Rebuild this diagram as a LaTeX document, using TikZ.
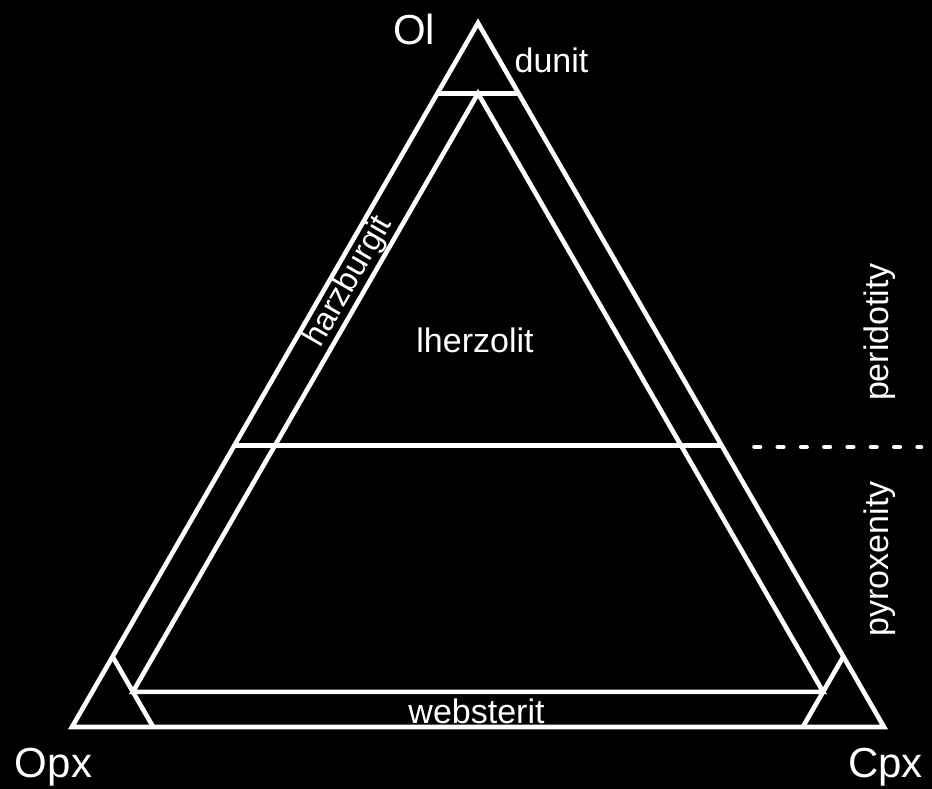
\documentclass[tikz,border=0pt]{standalone}
\usepackage{fontspec}
\setmainfont{Liberation Sans}
\begin{document}
\begin{tikzpicture}[x=1pt,y=-1pt,
  fieldline/.style={draw=white,line width=4.6pt},
  biglabel/.style={text=white,inner sep=0pt,font=\fontsize{42}{50}\selectfont},
  smalllabel/.style={text=white,inner sep=0pt,font=\fontsize{34}{40}\selectfont}]
\fill[black] (0,0) rectangle (932,789);
\useasboundingbox (0,0) rectangle (932,789);
% corners
\coordinate (opx) at (72,727);
\coordinate (cpx) at (884,727);
\coordinate (ol) at (478,23);
% field boundary points
\coordinate (d1) at (barycentric cs:ol=0.9,opx=0.1);
\coordinate (d2) at (barycentric cs:ol=0.9,cpx=0.1);
\coordinate (p1) at (barycentric cs:ol=0.4,opx=0.6);
\coordinate (p2) at (barycentric cs:ol=0.4,cpx=0.6);
\coordinate (top) at (barycentric cs:ol=0.9,opx=0.05,cpx=0.05);
\coordinate (w1) at (barycentric cs:ol=0.05,opx=0.9,cpx=0.05);
\coordinate (w2) at (barycentric cs:ol=0.05,opx=0.05,cpx=0.9);
\coordinate (o1) at (barycentric cs:opx=0.9,ol=0.1);
\coordinate (o2) at (barycentric cs:opx=0.9,cpx=0.1);
\coordinate (c1) at (barycentric cs:cpx=0.9,ol=0.1);
\coordinate (c2) at (barycentric cs:cpx=0.9,opx=0.1);
% outer triangle
\draw[fieldline] (opx) -- (cpx) -- (ol) -- cycle;
% inner boundaries
\draw[fieldline] (d1) -- (d2);
\draw[fieldline] (p1) -- (p2);
\draw[fieldline] (w1) -- (top) -- (w2) -- cycle;
\draw[fieldline] (o1) -- (o2);
\draw[fieldline] (c1) -- (c2);
% dashed separator
\coordinate (s1) at (754.5,447);
\coordinate (s2) at (921,447);
\draw[draw=white,line width=4.6pt,line cap=round,dash pattern=on 5.5pt off 17.8pt] (s1) -- (s2);
% labels
\node[biglabel,anchor=base] (lol) at (414,45) {Ol};
\node[biglabel,anchor=base] (lopx) at (53.5,777) {Opx};
\node[biglabel,anchor=base] (lcpx) at (885.5,777) {Cpx};
\node[smalllabel,anchor=base] (ldun) at (551.5,73) {dunit};
\node[smalllabel,anchor=base] (llhz) at (475,352) {lherzolit};
\node[smalllabel,anchor=base] (lweb) at (476.5,723) {websterit};
\node[smalllabel,rotate=60,font=\fontsize{32.5}{38}\selectfont] (lhzb) at (349,282) {harzburgit};
\node[smalllabel,rotate=90,anchor=base] (lper) at (888,332) {peridotity};
\node[smalllabel,rotate=90,anchor=base] (lpyr) at (888,559) {pyroxenity};
\end{tikzpicture}
\end{document}
